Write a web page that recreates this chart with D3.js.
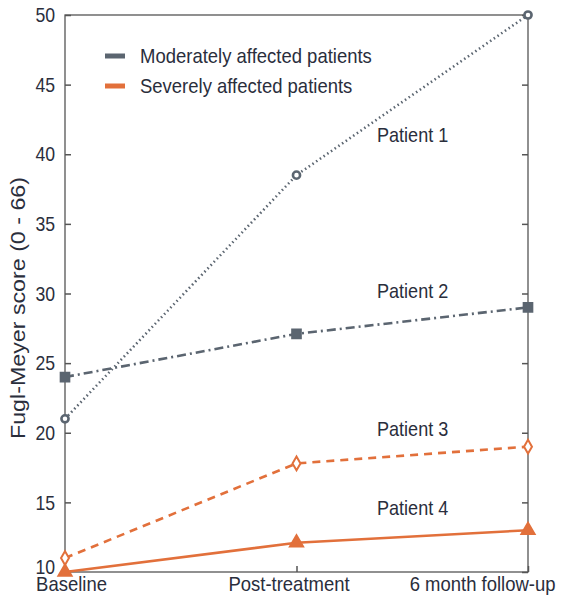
<!DOCTYPE html>
<html>
<head>
<meta charset="utf-8">
<script src="https://cdn.jsdelivr.net/npm/d3@7"></script>
<style>
  body { margin: 0; background: #fff; }
  svg text { font-family: "Liberation Sans", Arial, sans-serif; fill: #2a2e3c; }
</style>
</head>
<body>
<svg id="chart" width="561" height="599"></svg>
<script>
// data
var timepoints = ["Baseline", "Post-treatment", "6 month follow-up"];
var patient1 = [21, 38.5, 50];
var patient2 = [24, 27.1, 29];
var patient3 = [11, 17.8, 19];
var patient4 = [10, 12.1, 13];
var yTicks = [10, 15, 20, 25, 30, 35, 40, 45, 50];
var legendLabels = ["Moderately affected patients", "Severely affected patients"];

var grey = "#5b6570", orange = "#e2703b", axisCol = "#555";

var svg = d3.select("#chart");
var margin = {left: 65, right: 528, top: 15, bottom: 572};

var x = d3.scalePoint().domain(timepoints).range([margin.left, margin.right]);
var y = d3.scaleLinear().domain([10, 50]).range([margin.bottom, margin.top]);

// squeeze text a little so it looks like the narrow font of the original
function narrow(sel, k){
  sel.each(function(){
    var w = this.getComputedTextLength();
    d3.select(this).attr("textLength", w * k).attr("lengthAdjust", "spacingAndGlyphs");
  });
}

// frame
svg.append("rect")
  .attr("x", margin.left).attr("y", margin.top)
  .attr("width", margin.right - margin.left).attr("height", margin.bottom - margin.top)
  .attr("fill", "none").attr("stroke", axisCol).attr("stroke-width", 1.3);

// left axis, ticks pointing in
var yAxis = svg.append("g").attr("transform", "translate(" + margin.left + ",0)")
  .call(d3.axisLeft(y).tickValues(yTicks).tickSize(-6).tickPadding(10));
yAxis.select(".domain").remove();
yAxis.selectAll("line").attr("stroke", axisCol).attr("stroke-width", 1.5);
yAxis.selectAll("text").style("font-size", "21px").attr("fill", "#2a2e3c");
yAxis.selectAll(".tick text").filter(function(d){ return d == 10; }).attr("dy", "0.05em");
narrow(yAxis.selectAll("text"), 0.84);

// right side ticks
var yAxisR = svg.append("g").attr("transform", "translate(" + margin.right + ",0)")
  .call(d3.axisRight(y).tickValues(yTicks).tickSize(-6).tickFormat(""));
yAxisR.select(".domain").remove();
yAxisR.selectAll("line").attr("stroke", axisCol).attr("stroke-width", 1.5);

// bottom axis
var xAxis = svg.append("g").attr("transform", "translate(0," + margin.bottom + ")")
  .call(d3.axisBottom(x).tickSize(-6).tickPadding(4));
xAxis.select(".domain").remove();
xAxis.selectAll("line").attr("stroke", axisCol).attr("stroke-width", 1.5);
xAxis.selectAll("text").style("font-size", "21px").attr("fill", "#2a2e3c").attr("dy", "0.72em");
xAxis.selectAll(".tick text").attr("dx", function(d){ return d == "Baseline" ? 6 : (d == "Post-treatment" ? -8 : 27); })
  .attr("text-anchor", function(d){ return d == "6 month follow-up" ? "end" : "middle"; });
narrow(xAxis.selectAll("text"), 0.88);

// y label
svg.append("text")
  .attr("transform", "translate(25,308) rotate(-90)")
  .attr("text-anchor", "middle")
  .style("font-size", "21px")
  .attr("textLength", 262).attr("lengthAdjust", "spacingAndGlyphs")
  .text("Fugl-Meyer score (0 - 66)");

var line = d3.line()
  .x(function(d, i){ return x(timepoints[i]); })
  .y(function(d){ return y(d); });

var series = [
  {vals: patient1, color: grey, dash: "1.5,3", marker: "circle", label: "Patient 1", ly: 40.9},
  {vals: patient2, color: grey, dash: "9,4,2,4", marker: "square", label: "Patient 2", ly: 29.7},
  {vals: patient3, color: orange, dash: "8,6", marker: "diamond", label: "Patient 3", ly: 19.8},
  {vals: patient4, color: orange, dash: null, marker: "triangle", label: "Patient 4", ly: 14.1}
];

series.forEach(function(s){
  svg.append("path")
    .datum(s.vals)
    .attr("d", line)
    .attr("fill", "none")
    .attr("stroke", s.color)
    .attr("stroke-width", 2.6)
    .attr("stroke-dasharray", s.dash);

  var sym = {circle: d3.symbolCircle, square: d3.symbolSquare, diamond: d3.symbolDiamond, triangle: d3.symbolTriangle}[s.marker];
  var size = {circle: 40, square: 75, diamond: 55, triangle: 75}[s.marker];
  var filled = s.marker == "square" || s.marker == "triangle";
  svg.selectAll(null)
    .data(s.vals)
    .enter()
    .append("path")
    .attr("transform", function(d, i){ return "translate(" + x(timepoints[i]) + "," + y(d) + ")"; })
    .attr("d", d3.symbol().type(sym).size(size))
    .attr("fill", filled ? s.color : "#fff")
    .attr("stroke", s.color)
    .attr("stroke-width", s.marker == "circle" ? 2.6 : 2);

  var t = svg.append("text")
    .attr("x", 377).attr("y", y(s.ly))
    .style("font-size", "21px")
    .text(s.label);
  narrow(t, 0.86);
});

// legend
var legend = svg.append("g");
legendLabels.forEach(function(lbl, i){
  var ly = 63 + i * 30;
  legend.append("line")
    .attr("x1", 105).attr("x2", 125).attr("y1", ly - 7).attr("y2", ly - 7)
    .attr("stroke", i == 0 ? grey : orange).attr("stroke-width", 5);
  var t = legend.append("text")
    .attr("x", 140).attr("y", ly)
    .style("font-size", "21px")
    .text(lbl);
  narrow(t, 0.88);
});
</script>
</body>
</html>
